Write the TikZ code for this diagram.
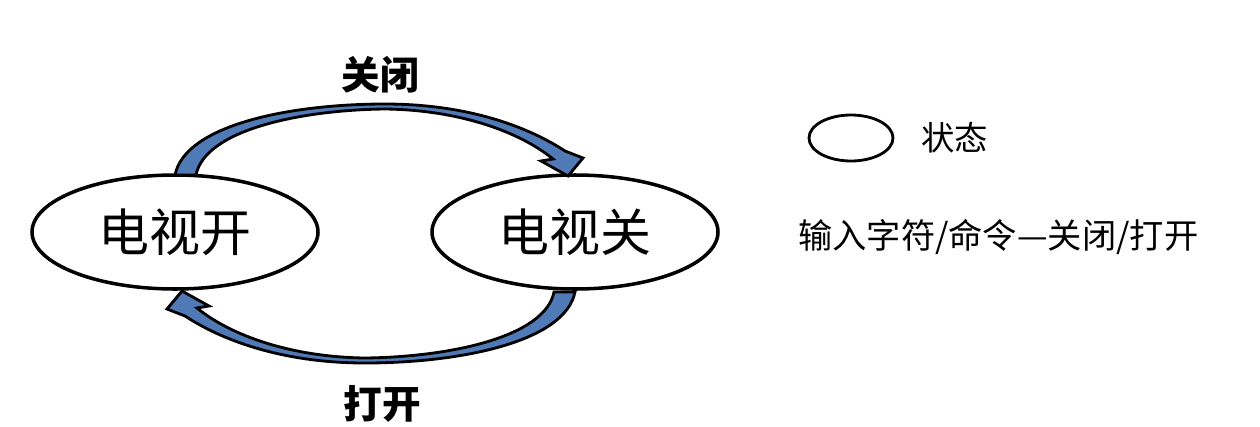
\documentclass[tikz,border=0pt]{standalone}
\usepackage{fontspec}
\usetikzlibrary{shapes.geometric}
\newfontfamily\cjk{Noto Sans CJK SC}
\begin{document}
\begin{tikzpicture}[x=0.02cm,y=-0.02cm,
  st/.style={draw,line width=2pt,ellipse,minimum width=286*0.02cm,minimum height=114*0.02cm,inner sep=0pt,font=\cjk\fontsize{29}{29}\selectfont},
  barrow/.style={draw,line width=1.6pt,fill={rgb,255:red,79;green,122;blue,182},line join=miter}]
\useasboundingbox (0,0) rectangle (1260,426);
\node[st] (on) at (175,232) {电视开};
\node[st] (off) at (575,232) {电视关};
\def\arr{(175,175) .. controls (185,125) and (290,104) .. (385,104) .. controls (470,104) and (530,128) .. (565,151) -- (583,158) -- (568,176) -- (541,161) -- (553,159) .. controls (520,132) and (460,110) .. (385,109) .. controls (300,110) and (205,130) .. (196,175) -- cycle}
\draw[barrow] \arr;
\draw[barrow,rotate around={180:(375,233.5)}] \arr;
\node[font=\cjk\bfseries\fontsize{22}{22}\selectfont] (t1) at (380,75) {关闭};
\node[font=\cjk\bfseries\fontsize{22}{22}\selectfont] (t2) at (382,404) {打开};
\node[draw,line width=1.6pt,ellipse,minimum width=84*0.02cm,minimum height=46*0.02cm] (lg) at (851,138) {};
\node[font=\cjk\fontsize{19}{19}\selectfont,anchor=west] (l1) at (915,138) {状态};
\node[font=\cjk\fontsize{19.5}{20}\selectfont,anchor=west] (l2) at (792,237) {输入字符/命令—关闭/打开};
\end{tikzpicture}
\end{document}
